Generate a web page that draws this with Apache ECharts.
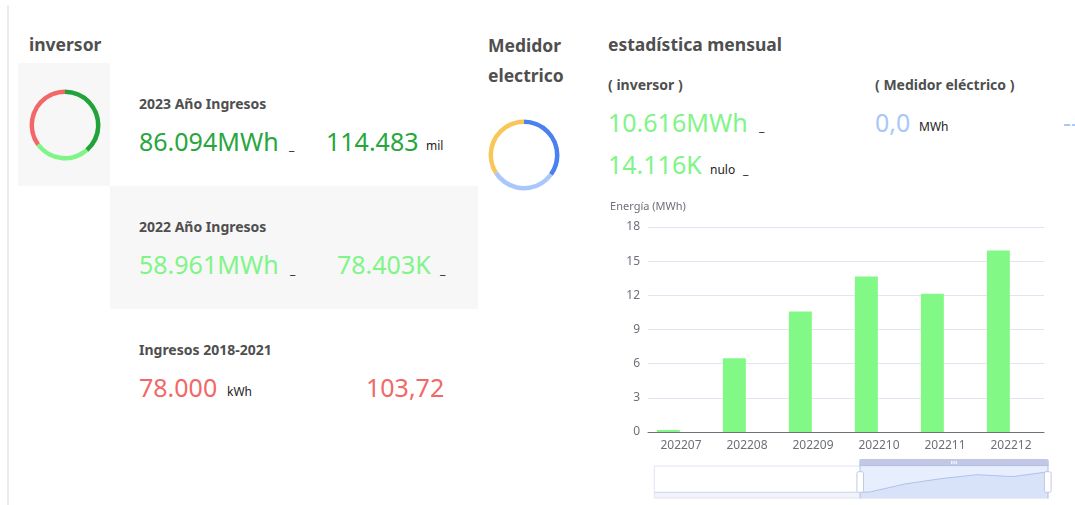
<!DOCTYPE html>
<html>
<head>
<meta charset="utf-8">
<title>estadística mensual</title>
<script src="https://cdn.jsdelivr.net/npm/echarts@6/dist/echarts.min.js"></script>
<style>
  html, body { margin: 0; padding: 0; background: #fff; }
  #page { position: relative; width: 1075px; height: 505px; overflow: hidden; font-family: "Noto Sans", sans-serif; color: #333; }
  #page .linea { position: absolute; left: 7px; top: 5px; width: 2px; height: 500px; background: #ececec; }
  .panel { position: absolute; background: #f7f7f7; }
  .t { position: absolute; white-space: nowrap; line-height: 1; }
  .h1 { font-size: 17.5px; font-weight: bold; color: #4f4f4f; }
  .h2 { font-size: 14px; font-weight: bold; color: #4f4f4f; }
  .big { font-size: 25px; }
  .u { font-size: 12px; color: #222; }
  .verde { color: #27a63d; }
  .claro { color: #80f587; }
  .rojo { color: #f26868; }
  .azul { color: #a9c7fc; }
  #chart { position: absolute; left: 0; top: 0; width: 1075px; height: 505px; }
</style>
</head>
<body>
<div id="page">
  <div class="linea"></div>
  <div class="panel" style="left:18px;top:63px;width:92px;height:123px;"></div>
  <div class="panel" style="left:110px;top:186px;width:368px;height:123px;"></div>

  <!-- inversor -->
  <div class="t h1" style="left:29px;top:35.5px;">inversor</div>

  <div class="t h2" style="left:139px;top:97px;">2023 Año Ingresos</div>
  <div class="t big verde" style="left:139px;top:128.5px;">86.094MWh</div>
  <div class="t u" style="left:289px;top:140px;">_</div>
  <div class="t big verde" style="left:326px;top:128.5px;">114.483</div>
  <div class="t u" style="left:426px;top:140px;">mil</div>

  <div class="t h2" style="left:139px;top:220px;">2022 Año Ingresos</div>
  <div class="t big claro" style="left:139px;top:252px;">58.961MWh</div>
  <div class="t u" style="left:290px;top:264px;">_</div>
  <div class="t big claro" style="left:337px;top:252px;">78.403K</div>
  <div class="t u" style="left:440px;top:264px;">_</div>

  <div class="t h2" style="left:139px;top:342.6px;">Ingresos 2018-2021</div>
  <div class="t big rojo" style="left:139px;top:374.5px;">78.000</div>
  <div class="t u" style="left:227px;top:386px;">kWh</div>
  <div class="t big rojo" style="left:366px;top:374.5px;">103,72</div>

  <!-- Medidor electrico -->
  <div class="t h1" style="left:488px;top:36.5px;">Medidor</div>
  <div class="t h1" style="left:488px;top:66.5px;">electrico</div>

  <!-- estadística mensual -->
  <div class="t h1" style="left:608px;top:35.5px;">estadística mensual</div>
  <div class="t h2" style="left:608px;top:78.3px;">( inversor )</div>
  <div class="t h2" style="left:875px;top:78.3px;">( Medidor eléctrico )</div>
  <div class="t big claro" style="left:608px;top:109.5px;">10.616MWh</div>
  <div class="t u" style="left:759px;top:121px;">_</div>
  <div class="t big claro" style="left:608px;top:151.8px;">14.116K</div>
  <div class="t u" style="left:710px;top:164.3px;">nulo</div>
  <div class="t u" style="left:743px;top:164.3px;">_</div>
  <div class="t big azul" style="left:875px;top:109.5px;">0,0</div>
  <div class="t u" style="left:919px;top:121px;">MWh</div>
  <div class="t big azul" style="left:1063px;top:109.5px;">--</div>

  <div id="chart"></div>
</div>
<script>
// datos
const meses = ['202201', '202202', '202203', '202204', '202205', '202206',
               '202207', '202208', '202209', '202210', '202211', '202212'];
const energiaInversor = [0, 0, 0, 0, 0, 0, 0.18, 6.48, 10.58, 13.66, 12.14, 15.93];
const energiaMedidor = [0, 0, 0, 0, 0, 0, 0, 0, 0, 0, 0, 0];
const ejeY = { min: 0, max: 18, interval: 3 };

// anillo inversor: 2023, 2022, 2018-2021
const inversorNombres = ['2023', '2022', '2018-2021'];
const inversorValores = [86.094, 58.961, 78.0];
const inversorColores = ['#22a33a', '#80f587', '#f26868'];

// anillo medidor
const medidorNombres = ['a', 'b', 'c'];
const medidorValores = [35, 31, 34];
const medidorColores = ['#4a80f0', '#a9c7fc', '#f8c75a'];

const chart = echarts.init(document.getElementById('chart'));

const option = {
    textStyle: { fontFamily: 'Noto Sans' },
    animation: false,
    grid: {
        left: 648,
        right: 31,
        top: 227,
        bottom: 73,
        containLabel: false,
        outerBoundsMode: 'none'
    },
    xAxis: {
        type: 'category',
        data: meses,
        axisLine: { lineStyle: { color: '#6e7079' } },
        axisLabel: { color: '#6e7079', fontSize: 12 }
    },
    yAxis: {
        type: 'value',
        name: 'Energía (MWh)',
        nameTextStyle: { color: '#6e7079', fontSize: 11 },
        min: ejeY.min,
        max: ejeY.max,
        interval: ejeY.interval,
        axisLabel: { color: '#6e7079', fontSize: 12 },
        splitLine: { lineStyle: { color: '#e0e6f1' } }
    },
    dataZoom: [
        {
            type: 'slider',
            xAxisIndex: 0,
            // el porcentaje se redondea a la categoría 202207
            start: 52,
            end: 100,
            left: 651,
            right: 29,
            top: 459,
            height: 33
        }
    ],
    series: [
        {
            name: 'inversor',
            type: 'bar',
            data: energiaInversor,
            itemStyle: { color: '#82f887' }
        },
        {
            name: 'Medidor eléctrico',
            type: 'bar',
            data: energiaMedidor,
            itemStyle: { color: '#a9c7fc' }
        },
        {
            name: 'inversor anual',
            type: 'pie',
            center: [65, 125],
            radius: [31, 35.5],
            silent: true,
            label: { show: false },
            labelLine: { show: false },
            data: inversorValores.map(function (v, i) {
                return { name: inversorNombres[i], value: v, itemStyle: { color: inversorColores[i] } };
            })
        },
        {
            name: 'medidor',
            type: 'pie',
            center: [524, 155],
            radius: [31, 35.5],
            silent: true,
            label: { show: false },
            labelLine: { show: false },
            data: medidorValores.map(function (v, i) {
                return { name: medidorNombres[i], value: v, itemStyle: { color: medidorColores[i] } };
            })
        }
    ]
};

chart.setOption(option);
</script>
</body>
</html>
